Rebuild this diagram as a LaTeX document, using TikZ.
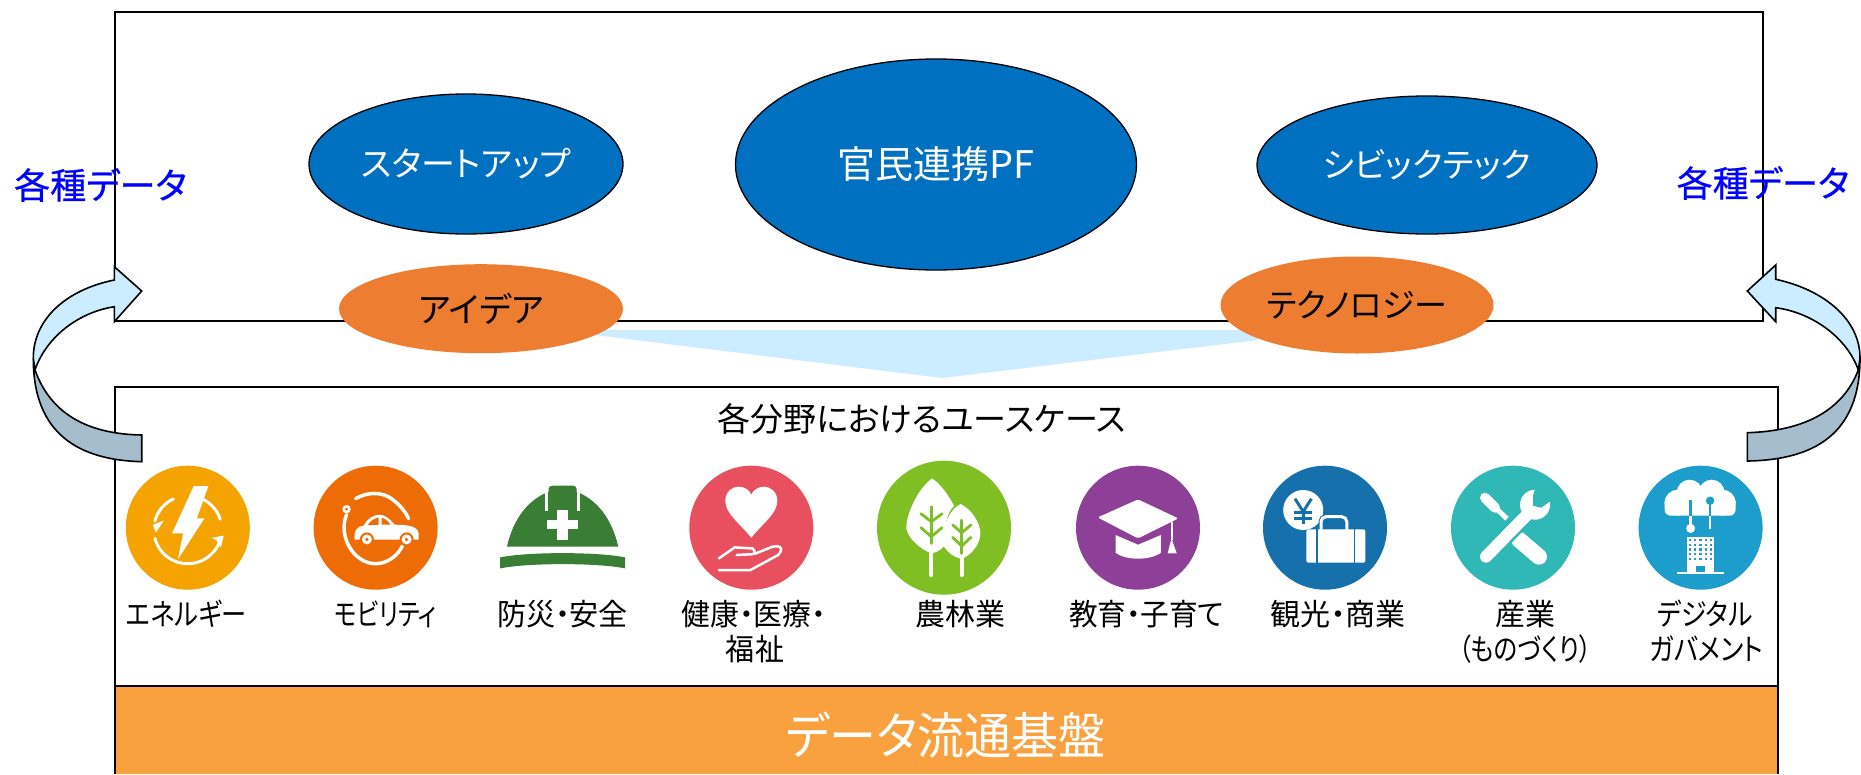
\documentclass[tikz,border=0pt]{standalone}
\usepackage{graphicx}
\usepackage{fontspec}
\setmainfont{Noto Sans CJK JP}[RawFeature={+palt}]
\newfontfamily\boldishfont{Noto Sans CJK JP}[RawFeature={+palt},FakeBold=0.5]
\usetikzlibrary{shapes.geometric}
\newcommand{\sqz}[2]{\scalebox{#1}[1]{#2}}
\definecolor{ellblue}{HTML}{0070C0}
\definecolor{ellorange}{HTML}{ED7D31}
\definecolor{barorange}{HTML}{F9A13F}
\definecolor{lightarrow}{HTML}{CCECFF}
\definecolor{darkarrow}{HTML}{A5BDCC}
\definecolor{icEnergy}{HTML}{F4A300}
\definecolor{icCar}{HTML}{EE6C05}
\definecolor{icHelmet}{HTML}{3A7D35}
\definecolor{icHeart}{HTML}{E9505F}
\definecolor{icTree}{HTML}{7FBF24}
\definecolor{icEdu}{HTML}{8E3F97}
\definecolor{icYen}{HTML}{1670AC}
\definecolor{icTool}{HTML}{30B8B6}
\definecolor{icCloud}{HTML}{1C9DCB}
\tikzset{
  frame/.style={draw=black,line width=2pt},
  blueell/.style={ellipse,draw=black,line width=1.3pt,fill=ellblue,text=white,inner sep=0pt},
  orangeell/.style={ellipse,fill=ellorange,text=black,inner sep=0pt},
  lbl/.style={inner sep=0pt,font=\fontsize{30}{30}\selectfont},
  datalbl/.style={inner sep=0pt,text=blue,font=\boldishfont\fontsize{36}{36}\selectfont},
  arrowedge/.style={draw=black,line width=1.6pt,line join=miter},
  wl/.style={draw=white,line cap=round,line join=round},
}
\begin{document}
\begin{tikzpicture}[x=1pt,y=-1pt]
\useasboundingbox (0,0) rectangle (1861,774);
\fill[white] (0,0) rectangle (1861,774);
% frames
\draw[frame] (114.5,12) rectangle (1763,321);
\fill[lightarrow] (595,330) -- (1258,330) -- (1258,340) -- (942,378) -- (595,335) -- cycle;
\draw[frame] (114.5,386.5) rectangle (1778,686);
\fill[barorange] (114.5,687) rectangle (1778,774);
\draw[frame] (114.5,686) -- (1778,686);
\draw[frame] (114.5,686) -- (114.5,774);
\draw[frame] (1778,686) -- (1778,774);
% ellipses
\node[blueell,minimum width=314pt,minimum height=140pt,font=\fontsize{34}{34}\selectfont] (startup) at (466,164) {スタートアップ};
\node[blueell,minimum width=401pt,minimum height=211pt,font=\fontsize{38}{38}\selectfont] (pf) at (936,164.5) {官民連携PF};
\node[blueell,minimum width=340pt,minimum height=138pt,font=\fontsize{34}{34}\selectfont] (civic) at (1427,165) {シビックテック};
\node[orangeell,minimum width=284pt,minimum height=89pt,font=\fontsize{34.5}{34.5}\selectfont] (idea) at (481,308.7) {アイデア};
\node[orangeell,minimum width=273pt,minimum height=97pt,font=\fontsize{33}{33}\selectfont] (tech) at (1357,305) {テクノロジー};
% headings
\node[inner sep=0pt,font=\fontsize{33}{33}\selectfont] (usecase) at (921.7,419) {各分野におけるユースケース};
\node[inner sep=0pt,text=white,font=\fontsize{50}{50}\selectfont] (base) at (946,735) {\sqz{0.94}{データ流通基盤}};
% curved arrows
\path[fill=darkarrow,arrowedge] (33.3,358) .. controls (33,435) and (80,460) .. (141.7,461.7) -- (141.7,435) .. controls (85,434) and (50,412) .. (35,370) -- cycle;
\path[fill=lightarrow,arrowedge] (114.3,280) -- (114.3,266.7) -- (141.7,291) -- (114.3,321.7) -- (114.3,306.7) .. controls (75,313) and (45,340) .. (35,370) -- (33.3,358) .. controls (33.3,320) and (65,290) .. (114.3,280) -- cycle;
\path[fill=darkarrow,arrowedge] (1860,358) .. controls (1860,435) and (1813,460) .. (1747.3,461) -- (1747.3,432.7) .. controls (1805,431) and (1843,410) .. (1858.3,370) -- cycle;
\path[fill=lightarrow,arrowedge] (1775.7,279.3) -- (1775.7,265) -- (1747.3,291) -- (1775.7,321.7) -- (1775.7,307.7) .. controls (1815,313) and (1848,340) .. (1858.3,370) -- (1860,358) .. controls (1860,320) and (1825,290) .. (1775.7,279.3) -- cycle;
% data labels
\node[datalbl] (dataL) at (100.5,185) {各種データ};
\node[datalbl] (dataR) at (1763,183) {各種データ};
% ---- icons ----
% energy
\begin{scope}[shift={(187.8,527.7)}]
\fill[icEnergy] (0,0) circle[radius=62pt];
\fill[white] (5.9,-41.7) -- (20.6,-41.7) -- (9.1,-9.3) -- (16.6,-9.3) -- (-9.9,31.7) -- (-4.7,5.7) -- (-15.8,5.7) -- cycle;
\draw[wl,line width=3pt] plot[domain=195:245,samples=12] ({34*cos(\x)},{2+34*sin(\x)});
\draw[wl,line width=3pt] plot[domain=-62:-18,samples=12] ({34*cos(\x)},{2+34*sin(\x)});
\draw[wl,line width=3pt] plot[domain=22:165,samples=24] ({34*cos(\x)},{2+34*sin(\x)});
\fill[white] (-35,-3) -- (-24,-7) -- (-28,-1) -- (-32,5) -- cycle;
\fill[white] (36,8) -- (24,10) -- (29,13) -- (33,20) -- cycle;
\end{scope}
% car
\begin{scope}[shift={(375.6,527.7)}]
\fill[icCar] (0,0) circle[radius=62pt];
\draw[wl,line width=3.5pt] (-20,-29) .. controls (-8,-36) and (6,-36) .. (16,-29) .. controls (24,-23) and (30,-16) .. (33,-9);
\draw[wl,line width=3.5pt] (-29,-13) .. controls (-38,8) and (-22,36) .. (0,36) .. controls (12,36) and (22,28) .. (27,18);
\fill[white] (-29,-18.5) circle[radius=4.2pt];
\fill[icCar] (-29,-18.5) circle[radius=1.6pt];
\fill[white] (-21,12) .. controls (-22,3) and (-18,-2) .. (-12,-2) .. controls (-9,-8) and (-3,-13) .. (4,-13) .. controls (10,-13) and (15,-8) .. (19,-3) .. controls (30,-3) and (43,-2) .. (43,6) -- (43,12) -- cycle;
\fill[icCar] (-8,-2.5) .. controls (-5,-7) and (-1,-9.5) .. (3,-10) -- (3,-3) -- cycle;
\fill[icCar] (6,-10) .. controls (10,-9) and (13,-6) .. (15,-3) -- (6,-3) -- cycle;
\foreach \wx in {-8.7,31}{
  \fill[icCar] (\wx,11.7) circle[radius=7pt];
  \fill[white] (\wx,11.7) circle[radius=5pt];
  \fill[icCar] (\wx,11.7) circle[radius=1.8pt];
}
\end{scope}
% helmet
\begin{scope}[shift={(562.6,527.7)}]
\fill[icHelmet] (-55.7,19) .. controls (-49,-10) and (-34,-28) .. (-14,-36) -- (-14,-39) .. controls (-14,-41) and (-12,-42) .. (-10,-42) -- (10,-42) .. controls (12,-42) and (14,-41) .. (14,-39) -- (14,-36) .. controls (34,-28) and (49,-10) .. (55.7,19) -- cycle;
\draw[white,line width=3pt] (-16,-39) -- (-16,-17);
\draw[white,line width=3pt] (16,-39) -- (16,-17);
\fill[white] (-5.5,-18) rectangle (5.5,12.3);
\fill[white] (-15.4,-7.7) rectangle (15.4,1.7);
\fill[icHelmet] (-62.5,29.7) .. controls (-35,24) and (35,24) .. (62.5,29.7) -- (62.5,40.7) .. controls (35,35) and (-35,35) .. (-62.5,40.7) -- cycle;
\end{scope}
% heart
\begin{scope}[shift={(751.3,527.7)}]
\fill[icHeart] (0,0) circle[radius=62pt];
\fill[white] (0,10) .. controls (-12,-5) and (-26,-14) .. (-26,-27) .. controls (-26,-36) and (-19,-41) .. (-13,-41) .. controls (-7,-41) and (-2,-38) .. (0,-33) .. controls (2,-38) and (7,-41) .. (13,-41) .. controls (19,-41) and (26,-36) .. (26,-27) .. controls (26,-14) and (12,-5) .. (0,10) -- cycle;
\draw[wl,line width=2.5pt] (-32.4,30.7) -- (-16.6,19.7) -- (1.2,20.7) .. controls (4,23) and (4,26) .. (1.2,26.5) -- (-14.6,27.3);
\draw[wl,line width=2.5pt] (-32.4,42.3) -- (-0.8,42.3) -- (26.9,27.3) .. controls (31,23) and (31,19) .. (26,18.5) -- (21,19) -- (3.2,26.3);
\end{scope}
% trees
\begin{scope}[shift={(944,527.7)}]
\fill[icTree] (0,0) circle[radius=67pt];
\fill[white] (-11.9,-49.3) .. controls (-25,-40) and (-38,-15) .. (-37.6,1) .. controls (-36,10) and (-24,22) .. (-11.9,25.7) .. controls (-5,24) and (0,20) .. (2,15) .. controls (-1,0) and (3,-15) .. (10,-22) .. controls (3,-35) and (-5,-45) .. (-11.9,-49.3) -- cycle;
\fill[white] (16.6,-23.7) .. controls (4,-18) and (-4,5) .. (0,19) .. controls (4,25) and (10,30) .. (17.8,31) .. controls (26,28) and (36,18) .. (36.4,5.7) .. controls (36,-5) and (28,-18) .. (16.6,-23.7) -- cycle;
\draw[wl,line width=4pt] (-12.7,25.7) -- (-12.7,47.3);
\draw[wl,line width=4pt] (17.8,30) -- (17.8,47.3);
\begin{scope}[line width=2.8pt,draw=icTree,line cap=round]
\draw[icTree] (-12.7,-21) -- (-12.7,15.7);
\draw[icTree] (-23,-14) -- (-12.7,-6) -- (-2,-14);
\draw[icTree] (-23,0) -- (-12.7,9) -- (-2,0);
\draw[icTree] (17.8,-7.7) -- (17.8,25.7);
\draw[icTree] (8.7,-2.7) -- (17.8,5) -- (26.8,-2.7);
\draw[icTree] (8.7,9.7) -- (17.8,18.3) -- (26.8,9.7);
\end{scope}
\end{scope}
% graduation cap
\begin{scope}[shift={(1138,527.7)}]
\fill[icEdu] (0,0) circle[radius=62pt];
\fill[white,rounded corners=1.5pt] (0,-28.3) -- (-40.3,-10.3) -- (0,10.7) -- (40.3,-9.3) -- cycle;
\fill[white] (-22.5,7.3) -- (0,17) -- (22.9,7.3) -- (22.9,25) .. controls (12,33) and (-12,33) .. (-22.5,25) -- cycle;
\draw[white,line width=1.8pt] (33.6,-6) -- (33.6,12);
\fill[white] (33.6,10.7) -- (36,18) -- (38.8,25.7) -- (29.7,25.7) -- (31.5,18) -- cycle;
\end{scope}
% yen and bag
\begin{scope}[shift={(1325,527.7)}]
\fill[icYen] (0,0) circle[radius=62pt];
\fill[white] (-21.8,-17.7) circle[radius=20pt];
\draw[icYen,line width=3pt] (-30,-29) -- (-21.8,-16) -- (-13.6,-29);
\draw[icYen,line width=3pt] (-21.8,-16) -- (-21.8,-4);
\draw[icYen,line width=2.5pt] (-31,-15) -- (-12.6,-15);
\draw[icYen,line width=2.5pt] (-31,-9) -- (-12.6,-9);
\draw[icYen,line width=5pt,rounded corners=5pt] (-4,3) -- (-4,-11) -- (21.8,-11) -- (21.8,3);
\draw[white,line width=3pt,rounded corners=5pt] (-4,3) -- (-4,-11) -- (21.8,-11) -- (21.8,3);
\fill[white,rounded corners=2pt] (-18.6,1.7) rectangle (40.4,35);
\draw[icYen,line width=1.4pt] (-8,1.7) -- (-8,35);
\draw[icYen,line width=1.4pt] (29.7,1.7) -- (29.7,35);
\end{scope}
% tools
\begin{scope}[shift={(1513,527.7)}]
\fill[icTool] (0,0) circle[radius=62pt];
\draw[white,line width=10pt,line cap=round] (-28,-30) -- (-18,-20);
\draw[white,line width=5pt] (-20,-22) -- (-6,-9);
\draw[white,line width=16pt,line cap=round] (6,12) -- (26,29);
\draw[icTool,line width=17pt] (-25,27) -- (14,-13);
\draw[white,line width=12pt,line cap=round] (-27,29) -- (15,-14);
\fill[white] (22,-23) circle[radius=15pt];
\fill[icTool] (20,-22) -- (20,-32) -- (24,-45) -- (48,-35) -- (34,-24) -- (28,-20) -- cycle;
\end{scope}
% cloud and building
\begin{scope}[shift={(1700.6,527.7)}]
\fill[icCloud] (0,0) circle[radius=62pt];
\fill[white] (-23,-25) circle[radius=13pt] (-11,-35) circle[radius=13pt] (11,-35) circle[radius=13pt] (22,-25) circle[radius=13pt] (0,-28) circle[radius=14pt];
\fill[white,rounded corners=6pt] (-36,-32) rectangle (35,-12);
\draw[icCloud,line width=2.5pt] (-10,-27.7) -- (-10,-11.7);
\draw[icCloud,line width=2.5pt] (9.5,-27) -- (9.5,-11.7);
\fill[icCloud] (9.5,-27) circle[radius=4.2pt];
\draw[white,line width=2.5pt] (-10,-11.7) -- (-10,-2);
\draw[white,line width=2.5pt] (9.5,-11.7) -- (9.5,1.7);
\fill[white] (-10,0.7) circle[radius=4.5pt];
\fill[white] (-14,9) rectangle (13.5,45.7);
\draw[white,line width=2pt] (-23.8,45.7) -- (23.4,45.7);
\foreach \i in {0,1,2,3,4}{\foreach \j in {0,1,2,3,4}{
  \fill[icCloud] ({-10.5+\i*5.2-1.1},{12.5+\j*4.6-1.1}) rectangle ++(2.2,2.2);
}}
\fill[icCloud] (-5,38) rectangle (4,44);
\end{scope}
% icon labels
\node[lbl] (l1) at (186.6,614) {\sqz{0.84}{エネルギー}};
\node[lbl] (l2) at (385.5,614) {\sqz{0.79}{モビリティ}};
\node[lbl] (l3) at (562.6,614) {\sqz{0.97}{防災・安全}};
\node[lbl] (l4) at (753.6,614) {\sqz{0.96}{健康・医療・}};
\node[lbl] (l4b) at (755,648.7) {\sqz{0.97}{福祉}};
\node[lbl] (l5) at (960,614) {農林業};
\node[lbl] (l6) at (1146.7,614) {\sqz{0.955}{教育・子育て}};
\node[lbl] (l7) at (1338,614) {観光・商業};
\node[lbl] (l8) at (1525,614) {産業};
\node[lbl] (l8b) at (1525,648.7) {\sqz{0.82}{（ものづくり）}};
\node[lbl] (l9) at (1705,614) {\sqz{0.86}{デジタル}};
\node[lbl] (l9b) at (1706.5,648.7) {\sqz{0.855}{ガバメント}};
\end{tikzpicture}
\end{document}
